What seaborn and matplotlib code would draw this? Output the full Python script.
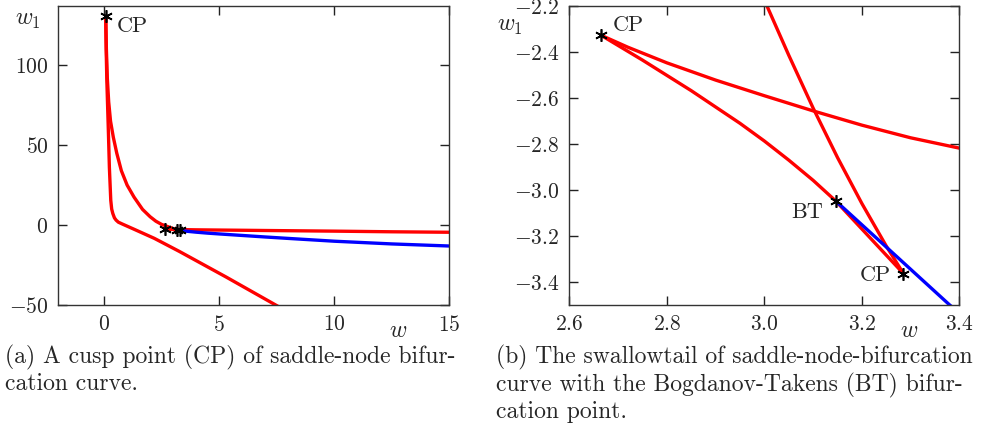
import numpy as np
import pandas as pd
import seaborn as sns
import matplotlib
matplotlib.use("Agg")
import matplotlib.pyplot as plt

# saddle-node curve in (w, w1)
inner_w = [8.0, 7.33, 5.3, 3.27, 2.18, 1.3, 0.8, 0.62, 0.52, 0.45, 0.38, 0.33, 0.29,
           0.23, 0.19, 0.16, 0.12, 0.09, 0.07]
inner_w1 = [-54.5, -49.0, -32.5, -16.5, -8.3, -2.6, 0.6, 1.8, 3.1, 4.5, 7.2, 10.0, 15.5,
            36.0, 56.7, 71.0, 90.0, 110.0, 130.5]

outer_w = [0.07, 0.1, 0.14, 0.2, 0.28, 0.4, 0.55, 0.75, 1.0, 1.3, 1.67, 2.0, 2.25, 2.5,
           2.7, 2.85, 2.95, 3.006, 3.05, 3.1, 3.15, 3.2, 3.25, 3.285]
outer_w1 = [130.5, 110.0, 92.0, 77.0, 65.0, 55.0, 45.0, 34.0, 25.0, 17.5, 9.8, 5.2, 2.4, 0.4,
            -0.62, -1.4, -1.93, -2.203, -2.414, -2.644, -2.859, -3.059, -3.244, -3.363]

back_w = [3.285, 3.146, 3.1, 3.05, 3.0, 2.95, 2.85, 2.75, 2.665]
back_w1 = [-3.363, -3.047, -2.958, -2.87, -2.787, -2.71, -2.568, -2.435, -2.327]

right_w = [2.665, 2.72, 2.8, 2.9, 3.0, 3.1, 3.2, 3.3, 3.4, 3.6, 4.0, 4.5, 5.0, 6.0,
           7.0, 8.5, 10.0, 12.5, 15.0, 15.5]
right_w1 = [-2.327, -2.379, -2.447, -2.522, -2.59, -2.656, -2.718, -2.773, -2.818, -2.89,
            -2.98, -3.05, -3.12, -3.25, -3.4, -3.6, -3.8, -4.2, -4.5, -4.55]

# curve starting at the BT point
blue_w = [3.146, 3.25, 3.38, 3.6, 4.0, 4.5, 5.0, 6.0, 7.0, 8.0, 10.0, 12.5, 15.0, 15.5]
blue_w1 = [-3.047, -3.248, -3.5, -3.88, -4.45, -5.05, -5.55, -6.5, -7.45, -8.35, -10.1,
           -11.8, -13.1, -13.35]

# special points
cp_w = [0.07, 2.665, 3.285]
cp_w1 = [130.5, -2.327, -3.363]
bt_w = [3.146]
bt_w1 = [-3.047]

caption_a = "(a) A cusp point (CP) of saddle-node bifur-\ncation curve."
caption_b = ("(b) The swallowtail of saddle-node-bifurcation\n"
             "curve with the Bogdanov-Takens (BT) bifur-\ncation point.")

sns.set_theme(style="ticks")
plt.rcParams["font.family"] = ["cmr10", "DejaVu Serif"]
plt.rcParams["mathtext.fontset"] = "cm"
plt.rcParams["axes.formatter.use_mathtext"] = True
plt.rcParams["axes.unicode_minus"] = True

fig = plt.figure(figsize=(9.87, 4.4), dpi=100)
ax_a = fig.add_axes([0.0588, 0.3068, 0.3966, 0.6795])
ax_b = fig.add_axes([0.5768, 0.3068, 0.3953, 0.6795])

red = "#ff0000"
blue = "#0000ff"
lw = 2.4

for ax in (ax_a, ax_b):
    for xs, ys in [(inner_w, inner_w1), (outer_w, outer_w1), (back_w, back_w1), (right_w, right_w1)]:
        sns.lineplot(x=xs, y=ys, sort=False, estimator=None, color=red, lw=lw, ax=ax)
    sns.lineplot(x=blue_w, y=blue_w1, sort=False, estimator=None, color=blue, lw=lw, ax=ax)
    ax.plot(cp_w + bt_w, cp_w1 + bt_w1, ls="none", marker=(6, 2, 0), ms=9, mew=1.2,
            color="black", zorder=5, clip_on=False)
    ax.tick_params(direction="in", length=6.5, width=1.0, top=True, right=True,
                   labelsize=15.5, color="#222222", pad=7)
    for sp in ax.spines.values():
        sp.set_color("#333333")
        sp.set_linewidth(1.0)
    ax.set_xlabel("")
    ax.set_ylabel("")

ax_a.set_xlim(-2, 15)
ax_a.set_ylim(-50, 137)
ax_a.set_xticks([0, 5, 10, 15])
ax_a.set_yticks([-50, 0, 50, 100])

ax_b.set_xlim(2.6, 3.4)
ax_b.set_ylim(-3.5, -2.2)
ax_b.set_xticks([2.6, 2.8, 3.0, 3.2, 3.4])
ax_b.set_yticks([-3.4, -3.2, -3.0, -2.8, -2.6, -2.4, -2.2])
ax_b.xaxis.set_major_formatter(matplotlib.ticker.FormatStrFormatter(r"$%.1f$"))
ax_b.yaxis.set_major_formatter(matplotlib.ticker.FormatStrFormatter(r"$%.1f$"))

# axis labels
fig.text(28 / 987, 1 - 20 / 440, r"$w_1$", fontsize=17, ha="center", va="center")
fig.text(398 / 987, 1 - 331 / 440, r"$w$", fontsize=17, ha="center", va="center")
fig.text(510 / 987, 1 - 26 / 440, r"$w_1$", fontsize=17, ha="center", va="center")
fig.text(909 / 987, 1 - 331 / 440, r"$w$", fontsize=17, ha="center", va="center")

# point labels
ax_a.annotate("CP", (cp_w[0], cp_w1[0]), xytext=(8, -7), textcoords="offset points",
              ha="left", va="center", fontsize=16)
ax_b.annotate("CP", (cp_w[1], cp_w1[1]), xytext=(8.5, 7), textcoords="offset points",
              ha="left", va="center", fontsize=16)
ax_b.annotate("BT", (bt_w[0], bt_w1[0]), xytext=(-9, -8), textcoords="offset points",
              ha="right", va="center", fontsize=16)
ax_b.annotate("CP", (cp_w[2], cp_w1[2]), xytext=(-9, -1), textcoords="offset points",
              ha="right", va="center", fontsize=16)

# captions
fig.text(5 / 987, 1 - 345 / 440, caption_a, fontsize=17, ha="left", va="top", linespacing=1.17)
fig.text(496 / 987, 1 - 345 / 440, caption_b, fontsize=17, ha="left", va="top", linespacing=1.17)

fig.savefig("out.png", dpi=100)
